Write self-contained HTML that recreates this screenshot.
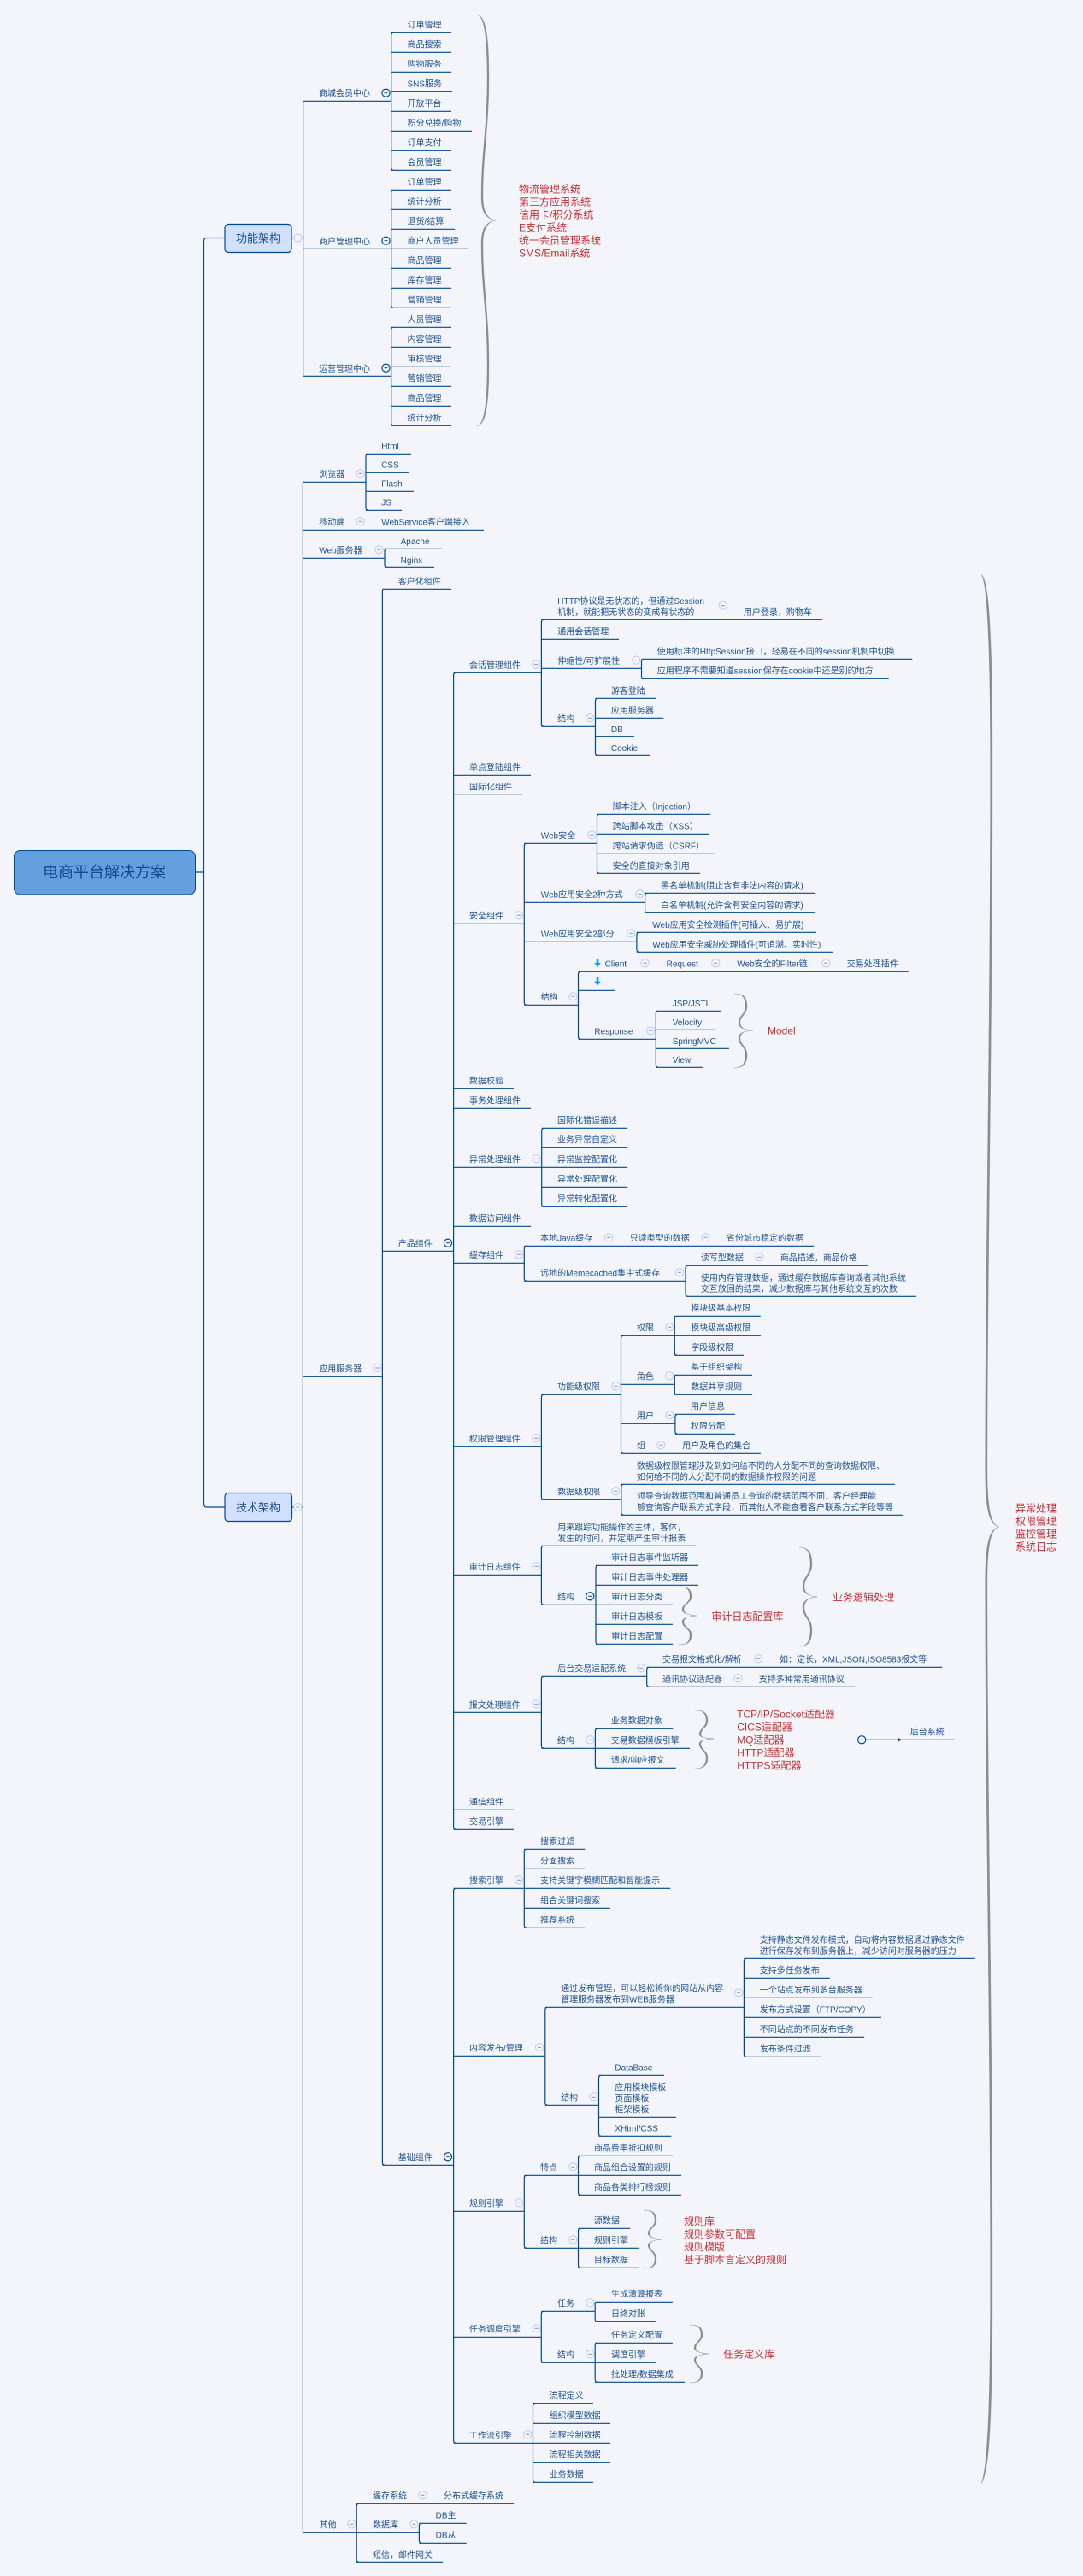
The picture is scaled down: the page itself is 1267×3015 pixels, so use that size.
<!DOCTYPE html>
<html lang="zh"><head><meta charset="utf-8"><title>电商平台解决方案</title>
<style>
html,body{margin:0;padding:0;background:#f3f5fb;width:1267px;height:3015px;overflow:hidden}
svg{display:block;filter:blur(.25px)}
text{font-family:"Liberation Sans","Noto Sans CJK SC",sans-serif;font-size:10px;fill:#1f5290;dominant-baseline:central;transform:translateY(.8px)}
.r text{font-size:12px;fill:#c62f2f;transform:none}
.l{fill:none;stroke:#00498f;stroke-width:1.2}
.b{fill:#8c8c8c;stroke:#8c8c8c;stroke-width:.3}
</style></head><body>
<svg xmlns="http://www.w3.org/2000/svg" width="1267" height="3015" viewBox="0 0 1267 3015">
<defs>
<g id="p"><circle r="4.6" fill="#f3f5fb" stroke="#c3d1f2" stroke-width="1.2"/><path d="M-2,0H2" stroke="#7d95c8" stroke-width="1"/></g>
<g id="d"><circle r="4.6" fill="#f3f5fb" stroke="#00498f" stroke-width="1.2"/><path d="M-2,0H2" stroke="#00498f" stroke-width="1"/></g>
</defs>
<rect width="1267" height="3015" fill="#f3f5fb"/>

<path class="l" d="M229,1021H238.5M263,278.5H242Q238.5,278.5 238.5,282V1760Q238.5,1764 242,1764H263
M341,278.5H354.6M354.6,118.3V440.3M354.6,118.3H457.7M354.6,291.3H457.7M354.6,440.3H457.7
M460.7,38.3Q457.7,38.3 457.7,41.3V196.3Q457.7,199.3 460.7,199.3
M457.7,38.3H528M457.7,61.3H528M457.7,84.3H528M457.7,107.3H529M457.7,130.3H528M457.7,153.3H552M457.7,176.3H528M457.7,199.3H528
M460.7,222.3Q457.7,222.3 457.7,225.3V357.3Q457.7,360.3 460.7,360.3
M457.7,222.3H528M457.7,245.3H528M457.7,268.3H532M457.7,291.3H548M457.7,314.3H528M457.7,337.3H528M457.7,360.3H528
M460.7,383.3Q457.7,383.3 457.7,386.3V495.3Q457.7,498.3 460.7,498.3
M457.7,383.3H528M457.7,406.3H528M457.7,429.3H528M457.7,452.3H528M457.7,475.3H528M457.7,498.3H528
M341,1764H354.4M354.4,564.3V2964.3
M354.4,564.3H428M431,531.3Q428,531.3 428,534.3V594.3Q428,597.3 431,597.3M428,531.3H481M428,553.3H479M428,575.3H484M428,597.3H470
M354.4,620.3H566
M354.4,653.3H450M453,642.3Q450,642.3 450,645.3V661.3Q450,664.3 453,664.3M450,642.3H517M450,664.3H508
M354.4,1611.3H447.4M450.4,689.3Q447.4,689.3 447.4,692.3V2531.3Q447.4,2534.3 450.4,2534.3M447.4,689.3H528M447.4,1464.3H530.6M447.4,2534.3H530.6
M533.6,787.3Q530.6,787.3 530.6,790.3V2138.3Q530.6,2141.3 533.6,2141.3
M533.6,2210.3Q530.6,2210.3 530.6,2213.3V2856.3Q530.6,2859.3 533.6,2859.3
M530.6,787.3H633.4M636.4,725.3Q633.4,725.3 633.4,728.3V847.3Q633.4,850.3 636.4,850.3
M633.4,725.3H962.3M633.4,748.3H724M633.4,782.3H750.5M633.4,850.3H696.5
M753.5,771.3Q750.5,771.3 750.5,774.3V791.3Q750.5,794.3 753.5,794.3M750.5,771.3H1067.3M750.5,794.3H1039.8
M699.5,817.3Q696.5,817.3 696.5,820.3V881.3Q696.5,884.3 699.5,884.3M696.5,817.3H767M696.5,840.3H776.3M696.5,862.3H742M696.5,884.3H760
M530.6,907.3H621M530.6,930.3H611.2
M530.6,1081.3H613.3M616.3,987.3Q613.3,987.3 613.3,990.3V1173.3Q613.3,1176.3 616.3,1176.3
M613.3,987.3H698.5M701.5,953.3Q698.5,953.3 698.5,956.3V1019.3Q698.5,1022.3 701.5,1022.3M698.5,953.3H831.1M698.5,976.3H829M698.5,999.3H836.2M698.5,1022.3H818.9
M613.3,1056.3H754.6M757.6,1045.3Q754.6,1045.3 754.6,1048.3V1065.3Q754.6,1068.3 757.6,1068.3M754.6,1045.3H953M754.6,1068.3H953
M613.3,1102.3H744.9M747.9,1091.3Q744.9,1091.3 744.9,1094.3V1111.3Q744.9,1114.3 747.9,1114.3M744.9,1091.3H955M744.9,1114.3H975
M613.3,1176.3H676.5M679.5,1137.3Q676.5,1137.3 676.5,1140.3V1213.3Q676.5,1216.3 679.5,1216.3M676.5,1137.3H1062.7M676.5,1159.3H718.9M676.5,1216.3H767.3
M770.3,1183.3Q767.3,1183.3 767.3,1186.3V1246.3Q767.3,1249.3 770.3,1249.3M767.3,1183.3H843.9M767.3,1205.3H837.2M767.3,1227.3H853M767.3,1249.3H822
M530.6,1274.3H601M530.6,1297.3H621
M530.6,1366.3H633.7M636.7,1320.3Q633.7,1320.3 633.7,1323.3V1409.3Q633.7,1412.3 636.7,1412.3M633.7,1320.3H734.2M633.7,1343.3H734.2M633.7,1366.3H734.2M633.7,1389.3H734.2M633.7,1412.3H734.2
M530.6,1435.3H621
M530.6,1478.3H613.3M616.3,1458.3Q613.3,1458.3 613.3,1461.3V1496.3Q613.3,1499.3 616.3,1499.3M613.3,1458.3H952M613.3,1499.3H802
M805,1481.3Q802,1481.3 802,1484.3V1514.3Q802,1517.3 805,1517.3M802,1481.3H1014.8M802,1517.3H1072
M530.6,1693.3H633.4M636.4,1632.3Q633.4,1632.3 633.4,1635.3V1752.3Q633.4,1755.3 636.4,1755.3M633.4,1632.3H726.5M633.4,1755.3H726.8
M729.5,1563.3Q726.5,1563.3 726.5,1566.3V1698.3Q726.5,1701.3 729.5,1701.3M726.5,1563.3H789.3M726.5,1620.3H789.3M726.5,1666.3H789.9M726.5,1701.3H890
M792.3,1540.3Q789.3,1540.3 789.3,1543.3V1583.3Q789.3,1586.3 792.3,1586.3M789.3,1540.3H889.8M789.3,1563.3H889.8M789.3,1586.3H869.9
M792.3,1609.3Q789.3,1609.3 789.3,1612.3V1629.3Q789.3,1632.3 792.3,1632.3M789.3,1609.3H880.1M789.3,1632.3H880.1
M792.9,1655.3Q789.9,1655.3 789.9,1658.3V1675.3Q789.9,1678.3 792.9,1678.3M789.9,1655.3H860M789.9,1678.3H860
M729.8,1737.3Q726.8,1737.3 726.8,1740.3V1770.3Q726.8,1773.3 729.8,1773.3M726.8,1737.3H1047M726.8,1773.3H1057
M530.6,1843.3H633.4M636.4,1809.3Q633.4,1809.3 633.4,1812.3V1875.3Q633.4,1878.3 636.4,1878.3M633.4,1809.3H814.2M633.4,1878.3H697
M700,1832.3Q697,1832.3 697,1835.3V1921.3Q697,1924.3 700,1924.3M697,1832.3H817M697,1855.3H817M697,1878.3H787M697,1901.3H787M697,1924.3H787
M530.6,2004.3H633.4M636.4,1962.3Q633.4,1962.3 633.4,1965.3V2043.3Q633.4,2046.3 636.4,2046.3M633.4,1962.3H756.7M633.4,2046.3H696.4
M759.7,1951.3Q756.7,1951.3 756.7,1954.3V1971.3Q756.7,1974.3 759.7,1974.3M756.7,1951.3H1102.3M756.7,1974.3H1000
M699.4,2023.3Q696.4,2023.3 696.4,2026.3V2066.3Q696.4,2069.3 699.4,2069.3M696.4,2023.3H787.2M696.4,2046.3H807M696.4,2069.3H790.8
M1012.8,2036.3H1055M1055,2036.3H1116.8
M530.6,2118.3H601M530.6,2141.3H601
M530.6,2210.3H613.3M616.3,2164.3Q613.3,2164.3 613.3,2167.3V2253.3Q613.3,2256.3 616.3,2256.3M613.3,2164.3H684.2M613.3,2187.3H684.2M613.3,2210.3H784.2M613.3,2233.3H713.8M613.3,2256.3H684.2
M530.6,2406.3H637.8M640.8,2349.3Q637.8,2349.3 637.8,2352.3V2461.3Q637.8,2464.3 640.8,2464.3M637.8,2349.3H870.4M637.8,2464.3H700.5
M873.4,2292.3Q870.4,2292.3 870.4,2295.3V2404.3Q870.4,2407.3 873.4,2407.3M870.4,2292.3H1140.8M870.4,2315.3H970.9M870.4,2338.3H1020.9M870.4,2361.3H1031M870.4,2384.3H1011.2M870.4,2407.3H961.2
M703.5,2429.3Q700.5,2429.3 700.5,2432.3V2497.3Q700.5,2500.3 703.5,2500.3M700.5,2429.3H777M700.5,2478.3H790.8M700.5,2500.3H785.2
M530.6,2588.3H613.3M616.3,2546.3Q613.3,2546.3 613.3,2549.3V2628.3Q613.3,2631.3 616.3,2631.3M613.3,2546.3H676.5M613.3,2631.3H676.5
M679.5,2523.3Q676.5,2523.3 676.5,2526.3V2566.3Q676.5,2569.3 679.5,2569.3M676.5,2523.3H787.2M676.5,2546.3H797M676.5,2569.3H797
M679.5,2608.3Q676.5,2608.3 676.5,2611.3V2651.3Q676.5,2654.3 679.5,2654.3M676.5,2608.3H737.2M676.5,2631.3H747M676.5,2654.3H747
M530.6,2735.3H633.3M636.3,2705.3Q633.3,2705.3 633.3,2708.3V2762.3Q633.3,2765.3 636.3,2765.3M633.3,2705.3H696.2M633.3,2765.3H696.2
M699.2,2694.3Q696.2,2694.3 696.2,2697.3V2714.3Q696.2,2717.3 699.2,2717.3M696.2,2694.3H786.9M696.2,2717.3H766.8
M699.2,2742.3Q696.2,2742.3 696.2,2745.3V2785.3Q696.2,2788.3 699.2,2788.3M696.2,2742.3H786.9M696.2,2765.3H766.8M696.2,2788.3H801
M530.6,2859.3H623.5M626.5,2813.3Q623.5,2813.3 623.5,2816.3V2902.3Q623.5,2905.3 626.5,2905.3M623.5,2813.3H694M623.5,2836.3H714M623.5,2859.3H714M623.5,2882.3H714M623.5,2905.3H694
M354.4,2964.3H417.2M420.2,2930.3Q417.2,2930.3 417.2,2933.3V2996.3Q417.2,2999.3 420.2,2999.3M417.2,2930.3H601.1M417.2,2964.3H490.4M417.2,2999.3H518.1
M493.4,2953.3Q490.4,2953.3 490.4,2956.3V2973.3Q490.4,2976.3 493.4,2976.3M490.4,2953.3H545.8M490.4,2976.3H545.8"/>
<path d="M1050,2033.5L1055,2036.3L1050,2039Z" fill="#00498f"/>

<path class="b" d="M558,17C568,19 572,40 572,90C572,150 565,180 565,230C565,248 570,256 580,258C570,260 565,268 565,286C565,336 572,366 572,426C572,476 568,497 558,499C566,497 570,476 570,426C570,366 563,336 563,286C563,268 568,260 580,258C568,256 563,248 563,230C563,180 570,150 570,90C570,40 566,19 558,17Z"/>
<path class="b" d="M1148,672C1156,680 1161,720 1161,900C1161,1200 1155,1500 1155,1720C1155,1770 1160,1785 1169,1787C1160,1789 1155,1804 1155,1854C1155,2074 1161,2374 1161,2674C1161,2854 1156,2894 1148,2907C1153,2894 1158.6,2854 1158.6,2674C1158.6,2374 1152.6,2074 1152.6,1854C1152.6,1804 1158,1789 1169,1787C1158,1785 1152.6,1770 1152.6,1720C1152.6,1500 1158.6,1200 1158.6,900C1158.6,720 1153,680 1148,672Z"/>
<path class="b" d="M859,1163C870,1163 874,1167 874,1178C874,1187 866,1189 866,1197C866,1203 872,1206 881,1206C872,1206 866,1209 866,1215C866,1223 874,1225 874,1234C874,1245 870,1250 859,1250C868,1250 872,1245 872,1234C872,1225 864,1223 864,1215C864,1209 870,1207 881,1206C870,1205 864,1203 864,1197C864,1189 872,1187 872,1178C872,1167 868,1163 859,1163Z"/>
<path class="b" d="M794,1857C805,1857 809,1860 809,1869C809,1876 800,1877 800,1884C800,1888 806,1891 815,1891C806,1891 800,1894 800,1898C800,1905 809,1906 809,1913C809,1922 805,1925 794,1925C803,1925 807,1922 807,1913C807,1906 798,1905 798,1898C798,1894 804,1892 815,1891C804,1890 798,1888 798,1884C798,1877 807,1876 807,1869C807,1860 803,1857 794,1857Z"/>
<path class="b" d="M935,1811C946,1811 950,1817 950,1831C950,1843 941,1846 941,1857C941,1864 947,1869 956,1869C947,1869 941,1874 941,1881C941,1892 950,1895 950,1907C950,1921 946,1927 935,1927C944,1927 948,1921 948,1907C948,1895 939,1892 939,1881C939,1874 945,1870 956,1869C945,1868 939,1864 939,1857C939,1846 948,1843 948,1831C948,1817 944,1811 935,1811Z"/>
<path class="b" d="M813,2002C824,2002 828,2005 828,2014C828,2022 820,2023 820,2030C820,2033 826,2035 835,2035C826,2035 820,2037 820,2041C820,2048 828,2049 828,2057C828,2066 824,2070 813,2070C822,2070 826,2066 826,2057C826,2049 818,2048 818,2041C818,2037 824,2036 835,2035C824,2034 818,2033 818,2030C818,2023 826,2022 826,2014C826,2005 822,2002 813,2002Z"/>
<path class="b" d="M753,2587C764,2587 768,2590 768,2599C768,2606 760,2608 760,2614C760,2618 766,2621 775,2621C766,2621 760,2624 760,2628C760,2634 768,2636 768,2643C768,2652 764,2655 753,2655C762,2655 766,2652 766,2643C766,2636 758,2634 758,2628C758,2624 764,2622 775,2621C764,2620 758,2618 758,2614C758,2608 766,2606 766,2599C766,2590 762,2587 753,2587Z"/>
<path class="b" d="M807,2721C818,2721 822,2724 822,2733C822,2740 814,2742 814,2748C814,2752 820,2755 829,2755C820,2755 814,2758 814,2762C814,2768 822,2770 822,2777C822,2786 818,2789 807,2789C816,2789 820,2786 820,2777C820,2770 812,2768 812,2762C812,2758 818,2756 829,2755C818,2754 812,2752 812,2748C812,2742 820,2740 820,2733C820,2724 816,2721 807,2721Z"/>

<rect x="16.5" y="995.5" width="212" height="51.5" rx="7" fill="#659fdf" stroke="#00498f" stroke-width="1"/>
<rect x="263" y="262.5" width="78" height="33" rx="4" fill="#d0e0fd" stroke="#00498f" stroke-width="1.2"/>
<rect x="263" y="1747.5" width="78.5" height="33" rx="4" fill="#d0e0fd" stroke="#00498f" stroke-width="1.2"/>

<path d="M697.7,1122h2.6v5h2.4l-3.7,5l-3.7,-5h2.4zM697.7,1143.6h2.6v5h2.4l-3.7,5l-3.7,-5h2.4z" fill="#0a9bf5"/>

<use href="#p" x="348.5" y="278.5"/><use href="#p" x="348.3" y="1764"/>
<use href="#d" x="451.5" y="108.7"/><use href="#d" x="451.5" y="281.7"/><use href="#d" x="451.5" y="430.7"/>
<use href="#p" x="421.6" y="554.3"/><use href="#p" x="421.6" y="610.3"/><use href="#p" x="443.4" y="643.3"/><use href="#p" x="441.3" y="1601"/>
<use href="#d" x="524" y="1454.7"/><use href="#d" x="524" y="2524.3"/>
<use href="#p" x="627" y="777.7"/><use href="#p" x="845.8" y="708.7"/><use href="#p" x="744.2" y="772.7"/><use href="#p" x="690.2" y="840.3"/>
<use href="#p" x="607.1" y="1071.3"/><use href="#p" x="692.3" y="977.3"/><use href="#p" x="748.5" y="1046.3"/><use href="#p" x="738.3" y="1092.3"/><use href="#p" x="670.4" y="1166.3"/>
<use href="#p" x="754.6" y="1127.3"/><use href="#p" x="837.2" y="1127.3"/><use href="#p" x="966.3" y="1127.3"/><use href="#p" x="761.2" y="1206.3"/>
<use href="#p" x="627.5" y="1356.3"/><use href="#p" x="607.1" y="1468.3"/><use href="#p" x="712.2" y="1448.3"/><use href="#p" x="825.5" y="1448.3"/><use href="#p" x="794.9" y="1489.3"/><use href="#p" x="888.3" y="1471.3"/>
<use href="#p" x="627.3" y="1683.3"/><use href="#p" x="720.4" y="1622.3"/><use href="#p" x="783.2" y="1553.3"/><use href="#p" x="783.2" y="1610.3"/><use href="#p" x="783.2" y="1656.3"/><use href="#p" x="773.3" y="1691.3"/><use href="#p" x="720.2" y="1745.3"/>
<use href="#p" x="627.3" y="1833.3"/><use href="#d" x="690.3" y="1868.3"/>
<use href="#p" x="627.3" y="1994.3"/><use href="#p" x="750" y="1952.3"/><use href="#p" x="887.2" y="1941.3"/><use href="#p" x="863.4" y="1964.3"/><use href="#p" x="690.3" y="2036.3"/><use href="#d" x="1008.2" y="2036.3"/>
<use href="#p" x="607.1" y="2200.3"/><use href="#p" x="631.1" y="2396.3"/><use href="#p" x="864.3" y="2332.3"/><use href="#p" x="694.4" y="2454.3"/>
<use href="#p" x="607.1" y="2578.3"/><use href="#p" x="670.4" y="2536.3"/><use href="#p" x="670.4" y="2621.3"/>
<use href="#p" x="627.5" y="2725.3"/><use href="#p" x="690.4" y="2695.3"/><use href="#p" x="690.4" y="2755.3"/><use href="#p" x="617.2" y="2849.3"/>
<use href="#p" x="411.4" y="2954.3"/><use href="#p" x="494.5" y="2920.3"/><use href="#p" x="484.2" y="2954.3"/>

<text x="50" y="1020.2" style="font-size:18px;fill:#0f4c8f">电商平台解决方案</text>
<text x="276" y="278.2" style="font-size:13px">功能架构</text>
<text x="276" y="1763.7" style="font-size:13px">技术架构</text>

<text x="373" y="109.3">商城会员中心</text><text x="373" y="282.7">商户管理中心</text><text x="373" y="431.7">运营管理中心</text>
<text x="476.5" y="29.3">订单管理</text><text x="476.5" y="52.3">商品搜索</text><text x="476.5" y="75.3">购物服务</text><text x="476.5" y="98.3">SNS服务</text><text x="476.5" y="121.3">开放平台</text><text x="476.5" y="144.3">积分兑换/购物</text><text x="476.5" y="167.3">订单支付</text><text x="476.5" y="190.3">会员管理</text>
<text x="476.5" y="213.3">订单管理</text><text x="476.5" y="236.3">统计分析</text><text x="476.5" y="259.3">退货/结算</text><text x="476.5" y="282.3">商户人员管理</text><text x="476.5" y="305.3">商品管理</text><text x="476.5" y="328.3">库存管理</text><text x="476.5" y="351.3">营销管理</text>
<text x="476.5" y="374.3">人员管理</text><text x="476.5" y="397.3">内容管理</text><text x="476.5" y="420.3">审核管理</text><text x="476.5" y="443.3">营销管理</text><text x="476.5" y="466.3">商品管理</text><text x="476.5" y="489.3">统计分析</text>

<text x="373.3" y="555.3">浏览器</text><text x="373.3" y="611.3">移动端</text><text x="373.3" y="644.3">Web服务器</text><text x="373.3" y="1602">应用服务器</text><text x="373.5" y="2955.3">其他</text>
<text x="446.2" y="522.3">Html</text><text x="446.2" y="544.3">CSS</text><text x="446.2" y="566.3">Flash</text><text x="446.2" y="588.3">JS</text>
<text x="446.2" y="611.3">WebService客户端接入</text>
<text x="468.6" y="633.7">Apache</text><text x="468.6" y="655.7">Nginx</text>
<text x="465.8" y="680.7">客户化组件</text><text x="465.8" y="1455.7">产品组件</text><text x="465.8" y="2525.3">基础组件</text>

<text x="549" y="778.7">会话管理组件</text>
<text x="652.3" y="703.7">HTTP协议是无状态的，但通过Session</text><text x="652.3" y="716.7">机制，就能把无状态的变成有状态的</text>
<text x="869.9" y="716.7">用户登录，购物车</text>
<text x="652.3" y="739.3">通用会话管理</text><text x="652.3" y="773.7">伸缩性/可扩展性</text>
<text x="768.8" y="762.7">使用标准的HttpSession接口，轻易在不同的session机制中切换</text>
<text x="768.8" y="785.3">应用程序不需要知道session保存在cookie中还是别的地方</text>
<text x="652.3" y="841.3">结构</text>
<text x="714.9" y="808.7">游客登陆</text><text x="714.9" y="831.7">应用服务器</text><text x="714.9" y="853.7">DB</text><text x="714.9" y="875.7">Cookie</text>

<text x="549" y="898.3">单点登陆组件</text><text x="549" y="921.3">国际化组件</text><text x="549" y="1072.3">安全组件</text>
<text x="632.7" y="978.3">Web安全</text>
<text x="716.8" y="944.3">脚本注入（Injection）</text><text x="716.8" y="967.3">跨站脚本攻击（XSS）</text><text x="716.8" y="990.3">跨站请求伪造（CSRF）</text><text x="716.8" y="1013.7">安全的直接对象引用</text>
<text x="632.7" y="1047.3">Web应用安全2种方式</text>
<text x="773" y="1036.7">黑名单机制(阻止含有非法内容的请求)</text><text x="773" y="1059.7">白名单机制(允许含有安全内容的请求)</text>
<text x="632.7" y="1093.3">Web应用安全2部分</text>
<text x="763.3" y="1082.7">Web应用安全检测插件(可插入、易扩展)</text><text x="763.3" y="1105.7">Web应用安全威胁处理插件(可追溯、实时性)</text>
<text x="632.7" y="1167.3">结构</text>
<text x="707.6" y="1128.3">Client</text><text x="779.6" y="1128.3">Request</text><text x="862.2" y="1128.3">Web安全的Filter链</text><text x="990.8" y="1128.3">交易处理插件</text>
<text x="695.4" y="1207.3">Response</text>
<text x="786.7" y="1174.7">JSP/JSTL</text><text x="786.7" y="1196.7">Velocity</text><text x="786.7" y="1218.7">SpringMVC</text><text x="786.7" y="1240.7">View</text>

<text x="549" y="1265.3">数据校验</text><text x="549" y="1288.3">事务处理组件</text><text x="549" y="1357.3">异常处理组件</text>
<text x="652" y="1311.3">国际化错误描述</text><text x="652" y="1334.3">业务异常自定义</text><text x="652" y="1357.3">异常监控配置化</text><text x="652" y="1380.3">异常处理配置化</text><text x="652" y="1403.3">异常转化配置化</text>
<text x="549" y="1426.3">数据访问组件</text><text x="549" y="1469.3">缓存组件</text>
<text x="632.1" y="1449.3">本地Java缓存</text><text x="736.7" y="1449.3">只读类型的数据</text><text x="850" y="1449.3">省份城市稳定的数据</text>
<text x="632.1" y="1490.3">远地的Memecached集中式缓存</text>
<text x="819.9" y="1472.3">读写型数据</text><text x="912.8" y="1472.3">商品描述，商品价格</text>
<text x="819.9" y="1495.7">使用内存管理数据，通过缓存数据库查询或者其他系统</text><text x="819.9" y="1508.7">交互放回的结果，减少数据库与其他系统交互的次数</text>

<text x="548.8" y="1684.3">权限管理组件</text><text x="652" y="1623.3">功能级权限</text>
<text x="744.9" y="1554.3">权限</text>
<text x="808.2" y="1531.3">模块级基本权限</text><text x="808.2" y="1554.3">模块级高级权限</text><text x="808.2" y="1577.3">字段级权限</text>
<text x="744.9" y="1611">角色</text>
<text x="808.2" y="1600.3">基于组织架构</text><text x="808.2" y="1623.3">数据共享规则</text>
<text x="745" y="1657.3">用户</text><text x="808" y="1646.3">用户信息</text><text x="808" y="1669.3">权限分配</text>
<text x="745" y="1692.3">组</text><text x="798.2" y="1692.3">用户及角色的集合</text>
<text x="652.2" y="1746.3">数据级权限</text>
<text x="745" y="1715.7">数据级权限管理涉及到如何给不同的人分配不同的查询数据权限、</text><text x="745" y="1728.7">如何给不同的人分配不同的数据操作权限的问题</text>
<text x="745" y="1751.3">领导查询数据范围和普通员工查询的数据范围不同，客户经理能</text><text x="745" y="1764.3">够查询客户联系方式字段，而其他人不能查看客户联系方式字段等等</text>

<text x="548.8" y="1834.3">审计日志组件</text>
<text x="652.2" y="1787.7">用来跟踪功能操作的主体，客体，</text><text x="652.2" y="1800.7">发生的时间，并定期产生审计报表</text>
<text x="652.2" y="1869.3">结构</text>
<text x="715.2" y="1823.3">审计日志事件监听器</text><text x="715.2" y="1846.3">审计日志事件处理器</text><text x="715.2" y="1869.3">审计日志分类</text><text x="715.2" y="1892.3">审计日志模板</text><text x="715.2" y="1915.3">审计日志配置</text>

<text x="548.8" y="1995.7">报文处理组件</text><text x="652.2" y="1953.3">后台交易适配系统</text>
<text x="775" y="1942.3">交易报文格式化/解析</text><text x="912" y="1942.3">如：定长，XML,JSON,ISO8583报文等</text>
<text x="775" y="1965.7">通讯协议适配器</text><text x="887.8" y="1965.7">支持多种常用通讯协议</text>
<text x="652" y="2037.3">结构</text>
<text x="714.8" y="2014.3">业务数据对象</text><text x="714.8" y="2037.3">交易数据模板引擎</text><text x="714.8" y="2060.3">请求/响应报文</text>
<text x="1064.8" y="2027.3">后台系统</text>
<text x="549" y="2109.3">通信组件</text><text x="549" y="2132.3">交易引擎</text>

<text x="549" y="2201.3">搜索引擎</text>
<text x="632.1" y="2155.3">搜索过滤</text><text x="632.1" y="2178.3">分面搜索</text><text x="632.1" y="2201.3">支持关键字模糊匹配和智能提示</text><text x="632.1" y="2224.3">组合关键词搜索</text><text x="632.1" y="2247.3">推荐系统</text>
<text x="549" y="2397.3">内容发布/管理</text>
<text x="656.1" y="2327.3">通过发布管理，可以轻松将你的网站从内容</text><text x="656.1" y="2340.3">管理服务器发布到WEB服务器</text>
<text x="888.8" y="2270.7">支持静态文件发布模式，自动将内容数据通过静态文件</text><text x="888.8" y="2283.7">进行保存发布到服务器上，减少访问对服务器的压力</text>
<text x="888.8" y="2306.3">支持多任务发布</text><text x="888.8" y="2329.3">一个站点发布到多台服务器</text><text x="888.8" y="2352.3">发布方式设置（FTP/COPY）</text><text x="888.8" y="2375.3">不同站点的不同发布任务</text><text x="888.8" y="2398.3">发布条件过滤</text>
<text x="656.1" y="2455.3">结构</text>
<text x="719.4" y="2420.3">DataBase</text><text x="719.4" y="2443.3">应用模块模板</text><text x="719.4" y="2456.3">页面模板</text><text x="719.4" y="2469.3">框架模板</text><text x="719.4" y="2491.3">XHtml/CSS</text>

<text x="549" y="2579.3">规则引擎</text><text x="632" y="2537.3">特点</text>
<text x="694.9" y="2514.3">商品费率折扣规则</text><text x="694.9" y="2537.3">商品组合设置的规则</text><text x="694.9" y="2560.3">商品各类排行榜规则</text>
<text x="632" y="2622.3">结构</text>
<text x="694.9" y="2599.3">源数据</text><text x="694.9" y="2622.3">规则引擎</text><text x="694.9" y="2645.3">目标数据</text>

<text x="548.9" y="2726.3">任务调度引擎</text><text x="652" y="2696.3">任务</text>
<text x="715" y="2685.3">生成清算报表</text><text x="715" y="2708.3">日终对账</text>
<text x="652" y="2756.3">结构</text>
<text x="715" y="2733.3">任务定义配置</text><text x="715" y="2756.3">调度引擎</text><text x="715" y="2779.3">批处理/数据集成</text>
<text x="548.9" y="2850.7">工作流引擎</text>
<text x="642.7" y="2804.3">流程定义</text><text x="642.7" y="2827.3">组织模型数据</text><text x="642.7" y="2850.3">流程控制数据</text><text x="642.7" y="2873.3">流程相关数据</text><text x="642.7" y="2896.3">业务数据</text>

<text x="436" y="2921.3">缓存系统</text><text x="519" y="2921.3">分布式缓存系统</text>
<text x="436" y="2955.3">数据库</text><text x="509.6" y="2944.3">DB主</text><text x="509.6" y="2967.3">DB从</text>
<text x="436" y="2990.7">短信，邮件网关</text>

<g class="r">
<text x="607" y="221.7">物流管理系统</text><text x="607" y="236.7">第三方应用系统</text><text x="607" y="251.7">信用卡/积分系统</text><text x="607" y="266.7">E支付系统</text><text x="607" y="281.7">统一会员管理系统</text><text x="607" y="296.7">SMS/Email系统</text>
<text x="898" y="1206.7">Model</text>
<text x="1188" y="1765.7">异常处理</text><text x="1188" y="1780.7">权限管理</text><text x="1188" y="1795.7">监控管理</text><text x="1188" y="1810.7">系统日志</text>
<text x="832.4" y="1892">审计日志配置库</text><text x="974" y="1869.7">业务逻辑处理</text>
<text x="862.2" y="2006.7">TCP/IP/Socket适配器</text><text x="862.2" y="2021.7">CICS适配器</text><text x="862.2" y="2036.7">MQ适配器</text><text x="862.2" y="2051.7">HTTP适配器</text><text x="862.2" y="2066.7">HTTPS适配器</text>
<text x="800" y="2600">规则库</text><text x="800" y="2615">规则参数可配置</text><text x="800" y="2630">规则模版</text><text x="800" y="2645">基于脚本言定义的规则</text>
<text x="846.2" y="2755.7">任务定义库</text>
</g>
</svg>
</body></html>
